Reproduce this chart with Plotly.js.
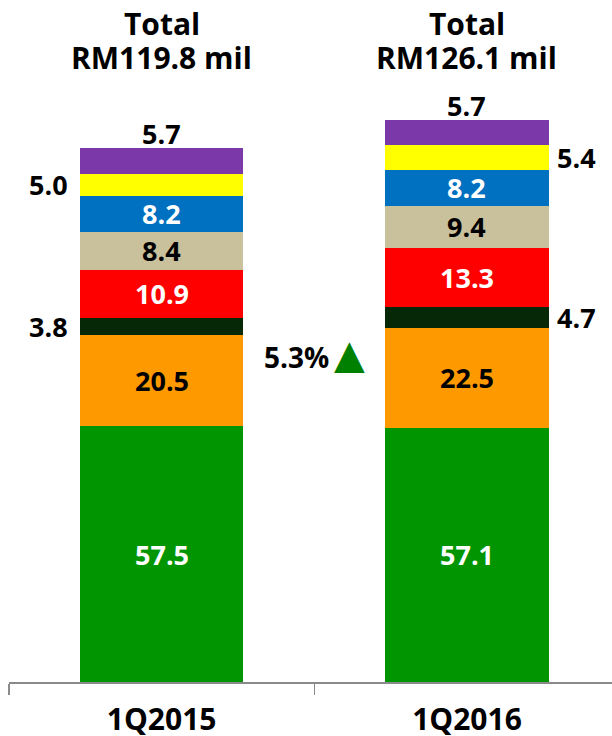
<!DOCTYPE html>
<html>
<head>
<meta charset="utf-8">
<script src="https://cdn.plot.ly/plotly-3.0.1.min.js"></script>
<style>
  html, body { margin: 0; padding: 0; background: #fff; }
  #chart { width: 612px; height: 736px; }
</style>
</head>
<body>
<div id="chart"></div>
<script>
// Quarter categories and reported totals (RM mil)
const categories = ['1Q2015', '1Q2016'];
const totals = [119.8, 126.1];

// Revenue segments, stacked from the bottom up (RM mil)
const segGreen    = [57.5, 57.1];
const segOrange   = [20.5, 22.5];
const segDark     = [3.8, 4.7];
const segRed      = [10.9, 13.3];
const segTan      = [8.4, 9.4];
const segBlue     = [8.2, 8.2];
const segYellow   = [5.0, 5.4];
const segPurple   = [5.7, 5.7];

const FONT = '"Open Sans", "DejaVu Sans", sans-serif';
const BAR_W = 0.535;

// Drawing order, colour and where each value label sits for each quarter
const series = [
  { y: segGreen,  color: '#019601', label: 'white', place: ['in', 'in'] },
  { y: segOrange, color: '#FF9900', label: 'black', place: ['in', 'in'] },
  { y: segDark,   color: '#062806', label: 'black', place: ['left', 'right'] },
  { y: segRed,    color: '#FF0000', label: 'white', place: ['in', 'in'] },
  { y: segTan,    color: '#C9C09C', label: 'black', place: ['in', 'in'] },
  { y: segBlue,   color: '#0070C0', label: 'white', place: ['in', 'in'] },
  { y: segYellow, color: '#FFFF00', label: 'black', place: ['left', 'right'] },
  { y: segPurple, color: '#7B38A8', label: 'black', place: ['above', 'above'] }
];

const traces = series.map(s => ({
  type: 'bar',
  x: categories,
  y: s.y,
  width: BAR_W,
  marker: { color: s.color, line: { width: 0 } },
  hoverinfo: 'skip',
  showlegend: false
}));

const annotations = [];
const base = categories.map(() => 0);
series.forEach(s => {
  s.y.forEach((v, i) => {
    const mid = base[i] + v / 2;
    const top = base[i] + v;
    const txt = v.toFixed(1);
    const font = { family: FONT, size: 27, color: s.label, weight: 'bold' };
    const p = s.place[i];
    if (p === 'in') {
      annotations.push({ x: i, y: mid, xref: 'x', yref: 'y', text: '<b>' + txt + '</b>',
        showarrow: false, xanchor: 'center', yanchor: 'middle', font });
    } else if (p === 'left') {
      annotations.push({ x: i - BAR_W / 2, y: mid, xref: 'x', yref: 'y', text: '<b>' + txt + '</b>',
        showarrow: false, xanchor: 'right', yanchor: 'middle', xshift: -10, font: { ...font, color: 'black' } });
    } else if (p === 'right') {
      annotations.push({ x: i + BAR_W / 2, y: mid, xref: 'x', yref: 'y', text: '<b>' + txt + '</b>',
        showarrow: false, xanchor: 'left', yanchor: 'middle', xshift: 6, font: { ...font, color: 'black' } });
    } else {
      annotations.push({ x: i, y: top, xref: 'x', yref: 'y', text: '<b>' + txt + '</b>',
        showarrow: false, xanchor: 'center', yanchor: 'bottom', yshift: -6, font: { ...font, color: 'black' } });
    }
    base[i] = top;
  });
});

// Totals above each bar (two tightly spaced lines)
totals.forEach((t, i) => {
  annotations.push({ x: i, y: 1.0, xref: 'x', yref: 'paper', yanchor: 'middle', yshift: -23,
    height: 34, text: '<b>Total</b>', showarrow: false,
    font: { family: FONT, size: 30, color: 'black' } });
  annotations.push({ x: i, y: 1.0, xref: 'x', yref: 'paper', yanchor: 'middle', yshift: -57,
    height: 34, text: '<b>RM' + t.toFixed(1) + ' mil</b>', showarrow: false,
    font: { family: FONT, size: 30, color: 'black' } });
});

// Year-on-year growth between the two totals
const growth = (totals[1] / totals[0] - 1) * 100;
annotations.push({ x: 0.553, y: 73, xref: 'x', yref: 'y', xanchor: 'right', yanchor: 'middle',
  text: '<b>' + growth.toFixed(1) + '%</b>', showarrow: false,
  font: { family: FONT, size: 28, color: 'black' } });
annotations.push({ x: 0.553, y: 73, xref: 'x', yref: 'y', xanchor: 'left', yanchor: 'middle', xshift: 1, yshift: 3,
  text: '▲', showarrow: false,
  font: { family: '"DejaVu Sans", sans-serif', size: 40, color: '#008000' } });

const layout = {
  width: 612,
  height: 736,
  margin: { l: 9, r: 0, t: 0, b: 54 },
  paper_bgcolor: '#ffffff',
  plot_bgcolor: '#ffffff',
  barmode: 'stack',
  xaxis: {
    type: 'category',
    range: [-0.5, 1.475],
    showline: true,
    linecolor: '#8a8a8a',
    linewidth: 1.5,
    ticks: 'outside',
    tickson: 'boundaries',
    ticklen: 11,
    tickcolor: '#8a8a8a',
    tickwidth: 1.5,
    showgrid: false,
    ticklabelstandoff: 10,
    tickfont: { family: FONT, size: 30, color: 'black', weight: 'bold' }
  },
  yaxis: {
    range: [0, 153.3],
    visible: false,
    showgrid: false,
    zeroline: false
  },
  annotations,
  showlegend: false
};

Plotly.newPlot('chart', traces, layout, { staticPlot: true, displayModeBar: false });
</script>
</body>
</html>
